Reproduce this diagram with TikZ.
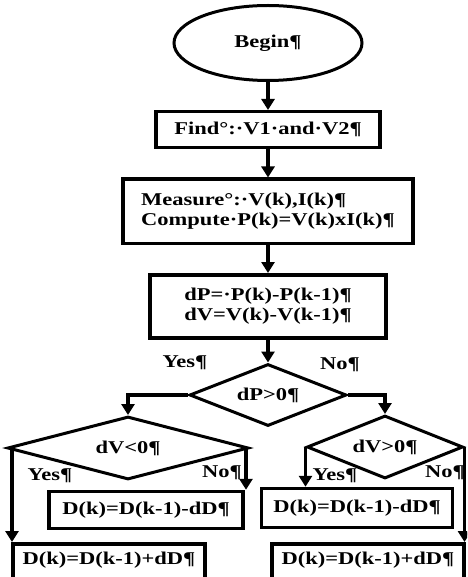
\documentclass[tikz,border=0pt]{standalone}
\usepackage{fontspec}
\setmainfont{Liberation Serif}[FakeStretch=1.25]
\usetikzlibrary{shapes.geometric, arrows.meta, positioning}
\newcommand{\flowfont}{\fontsize{18}{20}\selectfont\bfseries}
\tikzset{
  startstop/.style={ellipse, draw, line width=3pt, minimum width=188pt,
                    minimum height=75pt, font=\flowfont},
  procbox/.style={rectangle, draw, line width=3.5pt, align=left,
                  minimum height=36pt, font=\flowfont},
  cutbox/.style={procbox, anchor=north, minimum width=192pt,
                 text height=13pt, text depth=30pt, inner ysep=8pt},
  decision/.style={diamond, draw, line width=3pt, inner sep=0pt,
                   font=\flowfont},
  tag/.style={font=\flowfont, inner sep=0pt},
  flow/.style={-{Triangle[width=13pt, length=11pt]}, line width=3.5pt},
}

\begin{document}
\begin{tikzpicture}[x=1pt, y=-1pt, node distance=28pt]
  \useasboundingbox (0,0) rectangle (467,577);
  \clip (0,0) rectangle (467,577);

  \node [startstop] (begin) at (268,43) {Begin¶};
  \node [procbox, minimum width=224pt, below=of begin] (find) {Find°:·V1·and·V2¶};
  \node [procbox, minimum width=290pt, minimum height=64pt, below=of find] (measure)
        {Measure°:·V(k),I(k)¶\\Compute·P(k)=V(k)xI(k)¶};
  \node [procbox, minimum width=236pt, minimum height=63pt, below=of measure] (diff)
        {dP=·P(k)-P(k-1)¶\\dV=V(k)-V(k-1)¶};
  \node [decision, aspect=2.5, minimum width=157pt, minimum height=62pt,
         below=23pt of diff] (dpdec) {dP>0¶};

  \node [decision, aspect=3.8, minimum width=241pt, minimum height=63pt] (dvneg) at (128,448) {dV<0¶};
  \node [decision, aspect=2.5, minimum width=156pt, minimum height=63pt] (dvpos) at (385,447) {dV>0¶};

  \node [procbox, minimum width=194pt, minimum height=37pt] (decL) at (146,510) {D(k)=D(k-1)-dD¶};
  \node [procbox, minimum width=191pt, minimum height=39pt] (decR) at (357,508) {D(k)=D(k-1)-dD¶};
  \node [cutbox] (incL) at (109,542) {D(k)=D(k-1)+dD¶};
  \node [cutbox] (incR) at (368,542) {D(k)=D(k-1)+dD¶};

  \node [tag] (yesP) at (185,363) {Yes¶};
  \node [tag] (noP) at (340,365) {No¶};
  \node [tag] (yesL) at (50,476) {Yes¶};
  \node [tag] (noL) at (222,473) {No¶};
  \node [tag] (yesR) at (335,476) {Yes¶};
  \node [tag] (noR) at (445,473) {No¶};

  \coordinate (outL) at ([xshift=6pt]dvneg.west);
  \coordinate (inL) at ([xshift=-4pt]dvneg.east);

  \draw [flow] (begin) -- (find);
  \draw [flow] (find) -- (measure);
  \draw [flow] (measure) -- (diff);
  \draw [flow] (diff) -- (dpdec);
  \draw [flow] (dpdec.west) -| (dvneg.north);
  \draw [flow] (dpdec.east) -| (dvpos.north);
  \draw [flow] (outL) -- (outL |- incL.north);
  \draw [flow] (inL) -- (inL |- decL.north);
  \draw [flow] (dvpos.west) -- (dvpos.west |- decR.north);
  \draw [flow] (dvpos.east) -- (dvpos.east |- incR.north);
\end{tikzpicture}
\end{document}
